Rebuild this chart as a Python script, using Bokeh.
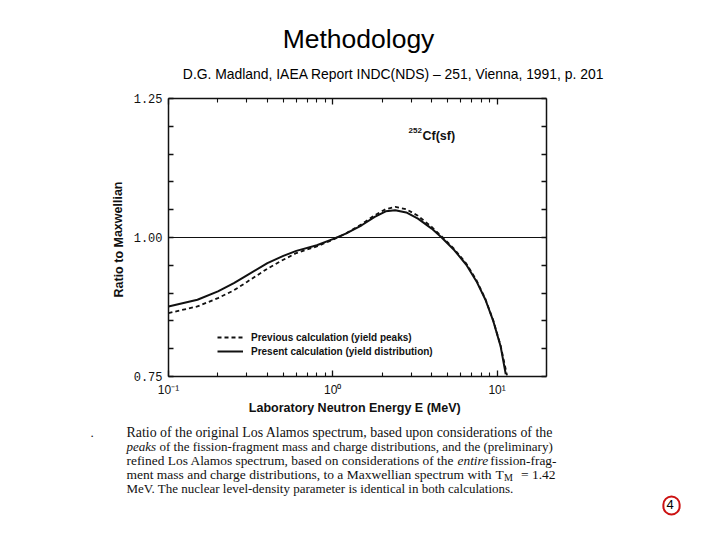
import math
from bokeh.plotting import figure
from bokeh.models import (Range1d, FixedTicker, LogAxis, LinearAxis, Label,
                          Legend, LegendItem)
from bokeh.embed import file_html
from bokeh.resources import INLINE

# ---- data ----
energy_present = [0.1, 0.15, 0.2, 0.25, 0.3, 0.4, 0.5, 0.6, 0.8, 1.0, 1.2, 1.5, 1.8,
                  2.1, 2.4, 2.8, 3.3, 4.0, 4.6, 5.5, 6.5, 7.5, 8.5, 9.5, 10.5, 11.3]
ratio_present = [0.876, 0.888, 0.903, 0.918, 0.932, 0.954, 0.967, 0.976, 0.986, 0.997,
                 1.007, 1.022, 1.037, 1.047, 1.049, 1.045, 1.034, 1.016, 1.000, 0.977,
                 0.951, 0.921, 0.888, 0.849, 0.805, 0.754]
energy_previous = [0.1, 0.15, 0.2, 0.25, 0.3, 0.4, 0.5, 0.6, 0.8, 1.0, 1.2, 1.5, 1.8,
                   2.1, 2.4, 2.8, 3.3, 4.0, 4.6, 5.5, 6.5, 7.5, 8.5, 9.5, 10.5, 11.5]
ratio_previous = [0.864, 0.876, 0.891, 0.905, 0.920, 0.944, 0.960, 0.972, 0.984, 0.996,
                  1.007, 1.024, 1.040, 1.051, 1.055, 1.051, 1.039, 1.019, 1.002, 0.979,
                  0.953, 0.923, 0.889, 0.850, 0.806, 0.752]
x_limits = [0.1, 20.0]
y_limits = [0.75, 1.25]
reference_ratio = [1.0, 1.0]
x_major_ticks = [0.1, 1, 10]
x_minor_ticks = [0.2, 0.3, 0.4, 0.5, 0.6, 0.7, 0.8, 0.9, 2, 3, 4, 5, 6, 7, 8, 9]
x_tick_labels = {0.1: "10⁻¹", 1: "10⁰", 10: "10¹"}
y_ticks = [0.75, 0.8, 0.85, 0.9, 0.95, 1.0, 1.05, 1.1, 1.15, 1.2, 1.25]
y_tick_labels = {0.75: "0.75", 0.8: "", 0.85: "", 0.9: "", 0.95: "", 1.0: "1.00",
                 1.05: "", 1.1: "", 1.15: "", 1.2: "", 1.25: "1.25"}
legend_labels = ["Previous calculation (yield peaks)",
                 "Present calculation (yield distribution)"]

# ---- layout: the frame fills the canvas; the chart box sits at fixed pixels ----
W, H = 704, 524
box_l, box_r, box_t, box_b = 168, 546, 98, 376   # chart box in canvas pixels
kx = (math.log10(x_limits[1]) - math.log10(x_limits[0])) / (box_r - box_l)
x_lo = 10 ** (math.log10(x_limits[0]) - box_l * kx)
x_hi = 10 ** (math.log10(x_limits[1]) + (W - box_r) * kx)
ky = (y_limits[1] - y_limits[0]) / (box_b - box_t)
y_lo = y_limits[0] - (H - box_b) * ky
y_hi = y_limits[1] + box_t * ky

p = figure(width=W, height=H, x_axis_type="log", x_range=Range1d(x_lo, x_hi),
           y_range=Range1d(y_lo, y_hi), output_backend="svg", toolbar_location=None,
           x_axis_location=None, y_axis_location=None, title=None,
           min_border=0, min_border_left=0, min_border_right=0, min_border_top=0,
           min_border_bottom=0)
p.background_fill_color = "white"
p.border_fill_color = "white"
p.outline_line_color = None
p.grid.visible = False

ink = "#111111"
sans = "Liberation Sans"

bottom = LogAxis(ticker=FixedTicker(ticks=x_major_ticks, minor_ticks=x_minor_ticks),
                 fixed_location=y_limits[0], bounds=tuple(x_limits),
                 major_label_overrides=x_tick_labels)
top = LogAxis(ticker=FixedTicker(ticks=x_major_ticks, minor_ticks=x_minor_ticks),
              fixed_location=y_limits[1], bounds=tuple(x_limits))
left = LinearAxis(ticker=FixedTicker(ticks=y_ticks, minor_ticks=[]),
                  fixed_location=x_limits[0], bounds=tuple(y_limits),
                  major_label_overrides=y_tick_labels)
right = LinearAxis(ticker=FixedTicker(ticks=y_ticks, minor_ticks=[]),
                   fixed_location=x_limits[1], bounds=tuple(y_limits))
p.add_layout(bottom, "below")
p.add_layout(top, "above")
p.add_layout(left, "left")
p.add_layout(right, "right")

for ax in (bottom, top, left, right):
    ax.axis_line_color = ink
    ax.axis_line_width = 1.5
    ax.major_tick_line_color = ink
    ax.minor_tick_line_color = ink
    ax.major_tick_in = 6
    ax.major_tick_out = 0
    ax.minor_tick_in = 4
    ax.minor_tick_out = 0
    ax.major_tick_line_width = 1.3
    ax.minor_tick_line_width = 1.1
for ax in (left, right):
    ax.major_tick_in = 5
for ax in (top, right):
    ax.major_label_text_font_size = "0px"
    ax.major_label_text_alpha = 0

bottom.major_label_text_font = sans
bottom.major_label_text_font_size = "12px"
bottom.major_label_text_color = ink
bottom.major_label_standoff = 6
left.major_label_text_font = "Liberation Mono"
left.major_label_text_font_size = "12px"
left.major_label_text_color = ink
left.major_label_standoff = 6

# horizontal reference line at ratio 1
p.line(x_limits, reference_ratio, line_color=ink, line_width=1.2)

r_prev = p.line(energy_previous, ratio_previous, line_color=ink, line_width=1.8,
                line_dash="4 3")
r_pres = p.line(energy_present, ratio_present, line_color=ink, line_width=2)

legend = Legend(items=[LegendItem(label=legend_labels[0], renderers=[r_prev]),
                       LegendItem(label=legend_labels[1], renderers=[r_pres])],
                location=(217, 166), background_fill_alpha=0, border_line_alpha=0,
                padding=0, margin=0, spacing=0, glyph_width=26, glyph_height=14,
                label_height=14, label_standoff=8, label_text_font=sans,
                label_text_font_size="10px", label_text_font_style="bold",
                label_text_color=ink)
p.add_layout(legend)


def lab(x, y, text, size=13, font=sans, style="normal", align="left",
        color=ink, angle=0, **kw):
    """x, y are canvas pixels from the top-left corner."""
    lbl = Label(x=x, y=H - y, x_units="screen", y_units="screen", text=text,
                text_font=font, text_font_size=f"{size}px", text_font_style=style,
                text_align=align, text_baseline="middle", text_color=color, angle=angle,
                **kw)
    p.add_layout(lbl)
    return lbl


# page titles
lab(358, 38, "Methodology", size=26.5, align="center", color="black")
lab(393, 73, "D.G. Madland, IAEA Report INDC(NDS) – 251, Vienna, 1991, p. 201",
    size=13.9, align="center", color="black")

# axis titles
lab(118, 239, "Ratio to Maxwellian", size=12.5, style="bold", align="center",
    angle=1.5708)
lab(356, 407, "Laboratory Neutron Energy E  (MeV)", size=12.5, style="bold",
    align="center")

# nuclide label
lab(408, 130, "252", size=8, style="bold")
lab(422, 135, "Cf(sf)", size=12.5, style="bold")

# caption (justified lines)
serif = "Liberation Serif"
lab(90, 432, ".", size=13, font=serif)
lab(126, 432, "Ratio of the original Los Alamos spectrum, based upon considerations of the",
    size=13.9, font=serif)
lab(126, 446, "peaks", size=13, font=serif, style="italic")
lab(159, 446, "of the fission-fragment mass and charge distributions, and the (preliminary)",
    size=13, font=serif)
lab(126, 460, "refined Los Alamos spectrum, based on considerations of the", size=13.4,
    font=serif)
lab(457, 460, "entire", size=13.4, font=serif, style="italic")
lab(556, 460, "fission-frag-", size=13.4, font=serif, align="right")
lab(126, 474, "ment mass and charge distributions, to a Maxwellian spectrum with",
    size=13.5, font=serif)
lab(495, 474, "T", size=13.5, font=serif)
lab(503.5, 477, "M", size=10, font=serif)
lab(555, 474, "= 1.42", size=13.5, font=serif, align="right")
lab(126, 488, "MeV.  The nuclear level-density parameter is identical in both calculations.",
    size=13, font=serif)

# page number
lab(671, 505, "4", size=13, align="center", color="black", text_line_height=1.0,
    border_line_color="#cc1111", border_line_width=2, border_radius=9,
    padding=(3, 6, 3, 6))

open("out.html", "w").write(file_html(p, INLINE))
